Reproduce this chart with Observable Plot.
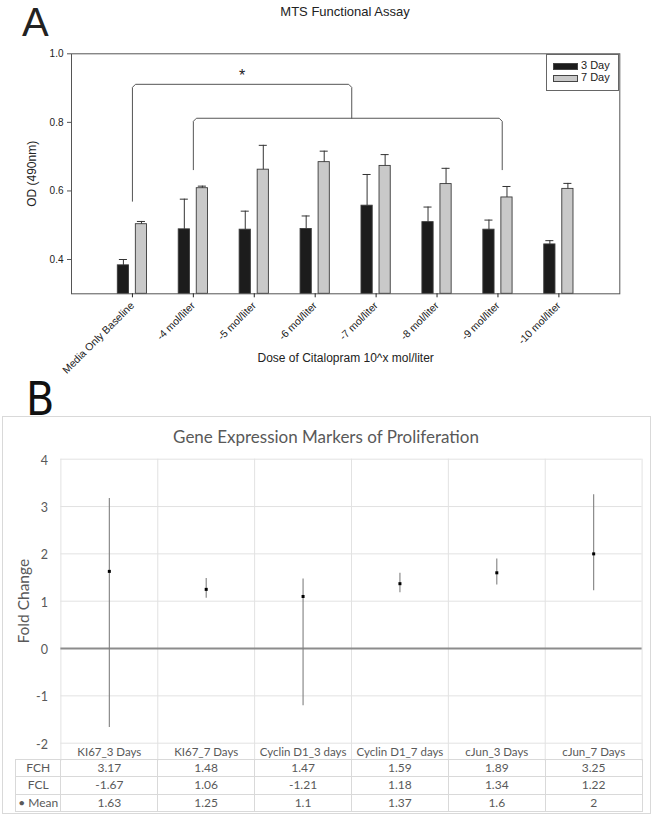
<!DOCTYPE html>
<html>
<head>
<meta charset="utf-8">
<script src="https://cdn.jsdelivr.net/npm/d3@7"></script>
<script src="https://cdn.jsdelivr.net/npm/@observablehq/plot@0.6"></script>
<style>
  body { margin: 0; background: #fff; }
  #root { position: relative; width: 653px; height: 818px; overflow: hidden; background: #fff; }
  .abs { position: absolute; white-space: nowrap; }
  .sans { font-family: "Liberation Sans", Arial, sans-serif; color: #222; }
  .cal { font-family: Lato, "Open Sans", sans-serif; color: #595959; }
  #tbl { position: absolute; border-collapse: collapse; table-layout: fixed; font-family: Lato, sans-serif; font-size: 12px; color: #595959; }
  #tbl td { border: 1px solid #d9d9d9; text-align: center; padding: 0; height: 16.3px; line-height: 16px; }
</style>
</head>
<body>
<div id="root"></div>
<script>
// ---------- Panel A data ----------
const doseCategories = ["Media Only Baseline", "-4 mol/liter", "-5 mol/liter", "-6 mol/liter",
  "-7 mol/liter", "-8 mol/liter", "-9 mol/liter", "-10 mol/liter"];
const seriesNames = ["3 Day", "7 Day"];
const day3Mean = [0.383, 0.488, 0.487, 0.489, 0.557, 0.509, 0.487, 0.444];
const day3Err  = [0.017, 0.088, 0.054, 0.038, 0.091, 0.044, 0.028, 0.011];
const day7Mean = [0.503, 0.608, 0.662, 0.684, 0.673, 0.620, 0.581, 0.606];
const day7Err  = [0.008, 0.006, 0.071, 0.032, 0.033, 0.046, 0.032, 0.016];
const yTicksA = [0.4, 0.6, 0.8, 1.0];
// significance brackets (category index units / OD units)
const bracketStart = [0, 1];
const bracketEnd = [3.6, 6.07];
const bracketLevel = [0.911, 0.812];
const bracketLeftFoot = [0.570, 0.662];
const bracketRightFoot = [0.812, 0.662];
const starLabel = "*";
const starLevel = 0.935;

// ---------- Panel B data ----------
const genes = ["KI67_3 Days", "KI67_7 Days", "Cyclin D1_3 days", "Cyclin D1_7 days", "cJun_3 Days", "cJun_7 Days"];
const fch  = [3.17, 1.48, 1.47, 1.59, 1.89, 3.25];
const fcl  = [-1.67, 1.06, -1.21, 1.18, 1.34, 1.22];
const mean = [1.63, 1.25, 1.1, 1.37, 1.6, 2];
const yTicksB = [-2, -1, 0, 1, 2, 3, 4];
const tableRows = ["FCH", "FCL", "Mean"];

const root = document.getElementById("root");
function addDiv(html, css, cls) {
  const d = document.createElement("div");
  d.className = "abs " + (cls || "");
  d.innerHTML = html;
  Object.assign(d.style, css);
  root.appendChild(d);
  return d;
}

// ---------- Panel A ----------
addDiv("A", {left: "22px", top: "0px", fontSize: "40px", lineHeight: "normal"}, "sans");
addDiv("MTS Functional Assay", {left: "245px", width: "200px", textAlign: "center", top: "4px", fontSize: "13px", lineHeight: "16px"}, "sans");

const hw = 0.092, off = 0.148, cap = 0.066;
const rowsA = doseCategories.flatMap((c, i) => [
  {i, series: seriesNames[0], mean: day3Mean[i], err: day3Err[i], cx: i - off},
  {i, series: seriesNames[1], mean: day7Mean[i], err: day7Err[i], cx: i + off}
]);
// bracket outline with small softened corners
const cdx = 0.05, cdy = 0.009;
const bracketPts = bracketStart.flatMap((s, k) => [
  {k, x: s, y: bracketLeftFoot[k]},
  {k, x: s, y: bracketLevel[k] - cdy},
  {k, x: s + cdx, y: bracketLevel[k]},
  {k, x: bracketEnd[k] - cdx, y: bracketLevel[k]},
  {k, x: bracketEnd[k], y: bracketLevel[k] - cdy},
  {k, x: bracketEnd[k], y: bracketRightFoot[k]}
]);
const yMinA = 0.3;

const plotA = Plot.plot({
  width: 653, height: 345,
  marginTop: 23.3, marginBottom: 81.7, marginLeft: 71, marginRight: 33.7,
  style: {fontFamily: "'Liberation Sans', Arial, sans-serif", fontSize: "10px", color: "#222", background: "transparent", overflow: "visible"},
  x: {type: "linear", domain: [-1, doseCategories.length]},
  y: {domain: [yMinA, 1.0]},
  color: {domain: seriesNames, range: ["#1c1c1c", "#c9c9c9"]},
  marks: [
    Plot.rectY(rowsA, {x1: d => d.cx - hw, x2: d => d.cx + hw, y1: yMinA, y2: "mean", fill: "series", stroke: "#3a3a3a", strokeWidth: 0.9}),
    Plot.ruleX(rowsA, {x: "cx", y1: "mean", y2: d => d.mean + d.err, stroke: "#333", strokeWidth: 1}),
    Plot.ruleY(rowsA, {y: d => d.mean + d.err, x1: d => d.cx - cap, x2: d => d.cx + cap, stroke: "#333", strokeWidth: 1}),
    Plot.line(bracketPts, {x: "x", y: "y", z: "k", stroke: "#555", strokeWidth: 1, strokeLinejoin: "round"}),
    Plot.text([starLabel], {x: (bracketStart[0] + bracketEnd[0]) / 2, y: starLevel, fontSize: 16, fill: "#222"}),
    Plot.frame({stroke: "#555", strokeWidth: 1}),
    Plot.axisY({ticks: yTicksA, tickFormat: d3.format(".1f"), tickSize: 4, tickPadding: 4, label: null, stroke: "#555"}),
    Plot.axisX({ticks: doseCategories.map((_, i) => i), tickFormat: i => doseCategories[i], tickRotate: -45, tickSize: 4, tickPadding: 6, label: null, fontSize: 10.5}),
    Plot.text(["OD (490nm)"], {frameAnchor: "left", textAnchor: "middle", lineAnchor: "middle", dx: -39, rotate: -90, fontSize: 12, fill: "#222"}),
    Plot.text(["Dose of Citalopram 10^x mol/liter"], {frameAnchor: "bottom", textAnchor: "middle", lineAnchor: "middle", dy: 64.7, fontSize: 12, fill: "#222"})
  ]
});
Object.assign(plotA.style, {position: "absolute", left: "0px", top: "30px"});
root.appendChild(plotA);

// legend
const leg = addDiv("", {left: "546px", top: "54px", width: "71px", height: "35px", border: "1px solid #666", background: "#fff"}, "sans");
seriesNames.forEach((s, k) => {
  const sw = document.createElement("div");
  Object.assign(sw.style, {position: "absolute", left: "6px", top: (8 + k * 12.4) + "px", width: "23px", height: "5px",
    background: plotA.scale("color").apply(s), border: "1px solid #444"});
  leg.appendChild(sw);
  const t = document.createElement("div");
  Object.assign(t.style, {position: "absolute", left: "34px", top: (4 + k * 12.4) + "px", fontSize: "11px", lineHeight: "13px"});
  t.textContent = s;
  leg.appendChild(t);
});

// ---------- Panel B ----------
addDiv("B", {left: "26px", top: "374px", fontSize: "46px", lineHeight: "50px", fontFamily: "'Liberation Sans Narrow', 'DejaVu Sans Condensed', Lato, sans-serif", color: "#111"});
addDiv("", {left: "2px", top: "416px", width: "647px", height: "396px", border: "1px solid #d9d9d9"});
addDiv("Gene Expression Markers of Proliferation", {left: "126px", width: "400px", textAlign: "center", top: "427px", fontSize: "17px", lineHeight: "20px"}, "cal");

const rowsB = genes.map((g, i) => ({i, g, fch: fch[i], fcl: fcl[i], mean: mean[i]}));
const boundaries = d3.range(genes.length + 1).map(k => k - 0.5);

const plotB = Plot.plot({
  width: 653, height: 316,
  marginTop: 14.7, marginBottom: 17.3, marginLeft: 60.4, marginRight: 11.4,
  style: {fontFamily: "Lato, 'Open Sans', sans-serif", fontSize: "12px", color: "#595959", background: "transparent", overflow: "visible"},
  x: {type: "linear", domain: [-0.5, genes.length - 0.5]},
  y: {domain: [yTicksB[0], yTicksB[yTicksB.length - 1]]},
  marks: [
    Plot.ruleY(yTicksB.filter(v => v !== 0), {stroke: "#e2e2e2", strokeWidth: 1}),
    Plot.ruleX(boundaries, {stroke: "#e2e2e2", strokeWidth: 1, insetBottom: -18}),
    Plot.ruleY([0], {stroke: "#8c8c8c", strokeWidth: 2}),
    Plot.ruleX(rowsB, {x: "i", y1: "fcl", y2: "fch", stroke: "#808080", strokeWidth: 1.1}),
    Plot.dot(rowsB, {x: "i", y: "mean", symbol: "square", r: 1.7, fill: "#000", stroke: null}),
    Plot.axisY({ticks: yTicksB, tickFormat: d => String(d), tickSize: 0, tickPadding: 13, label: null, dy: 1.5, fontSize: 12.5}),
    Plot.axisX({ticks: genes.map((_, i) => i), tickFormat: i => genes[i], tickSize: 0, tickPadding: 5, label: null, fontSize: 11.5}),
    Plot.text(["Fold Change"], {frameAnchor: "left", textAnchor: "middle", lineAnchor: "middle", dx: -36.4, rotate: -90, fontSize: 15.5, fill: "#595959"})
  ]
});
Object.assign(plotB.style, {position: "absolute", left: "0px", top: "444px"});
root.appendChild(plotB);

// data table under panel B
const tbl = document.createElement("table");
tbl.id = "tbl";
Object.assign(tbl.style, {left: "15px", top: "759px"});
const cg = document.createElement("colgroup");
const firstW = 45.4, colW = (641.6 - 60.4) / genes.length;
[firstW, ...genes.map(() => colW)].forEach(w => { const c = document.createElement("col"); c.style.width = w + "px"; cg.appendChild(c); });
tbl.appendChild(cg);
const vals = {FCH: fch, FCL: fcl, Mean: mean};
tableRows.forEach(r => {
  const tr = document.createElement("tr");
  const th = document.createElement("td");
  th.textContent = r === "Mean" ? "\u2022 Mean" : r;
  tr.appendChild(th);
  vals[r].forEach(v => { const td = document.createElement("td"); td.textContent = String(v); tr.appendChild(td); });
  tbl.appendChild(tr);
});
tbl.style.width = (firstW + colW * genes.length) + "px";
root.appendChild(tbl);
</script>
</body>
</html>
